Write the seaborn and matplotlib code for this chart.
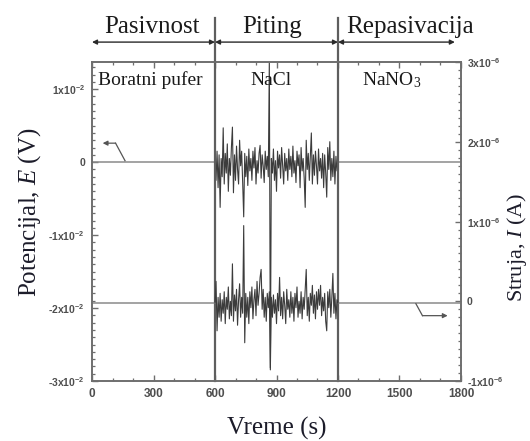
import numpy as np
import pandas as pd
import matplotlib
matplotlib.use("Agg")
import matplotlib.pyplot as plt
import seaborn as sns
from matplotlib.ticker import FixedLocator, FixedFormatter, MultipleLocator

# ---------------- data ----------------
phase_names = ["Pasivnost", "Piting", "Repasivacija"]
phase_bounds = [0, 600, 1200, 1800]
solution_names = ["Boratni pufer", "NaCl", "NaNO$_3$"]

x_ticks = [0, 300, 600, 900, 1200, 1500, 1800]
left_ticks = [-0.03, -0.02, -0.01, 0.0, 0.01]
left_labels = ["-3x10$^{-2}$", "-2x10$^{-2}$", "-1x10$^{-2}$", "0", "1x10$^{-2}$"]
right_ticks = [-1e-6, 0.0, 1e-6, 2e-6, 3e-6]
right_labels = ["-1x10$^{-6}$", "0", "1x10$^{-6}$", "2x10$^{-6}$", "3x10$^{-6}$"]

# baseline segments (passive and repassivation periods)
base_time_pass = [0, 600]
base_time_rep = [1200, 1800]
pot_base = [0.0, 0.0]          # x1e-2 V
cur_base = [-0.02, -0.02]      # x1e-6 A

# pitting period, sampled every 5 s from 600 to 1200 s
pit_time = np.arange(600, 1201, 5)
pot_pit = [  # x1e-2 V
    0.00, -0.25, 0.15, -0.35, 0.10, -0.62, 0.05, -0.20, 0.47, -0.30,
    0.12, -0.15, 0.25, -0.40, 0.05, -0.18, 0.20, 0.48, -0.42, 0.10,
    -0.25, 0.22, -0.10, -0.30, 0.30, -0.05, 0.15, -0.28, -0.75, 0.12,
    -0.20, 0.08, -0.32, 0.18, -0.12, 0.05, -0.25, 0.15, -0.08, 0.20,
    -0.30, 0.02, -0.15, 0.12, 0.23, -0.22, 0.10, -0.05, -0.28, 0.15,
    -0.10, 0.08, -0.20, 1.40, -2.82, 0.05, -0.15, 0.18, -0.25, 0.02,
    -0.40, 0.15, -0.08, 0.10, -0.22, 0.20, -0.05, -0.30, 0.12, -0.12,
    0.05, -0.25, 0.18, -0.10, 0.08, -0.20, 0.22, -0.15, 0.02, -0.28,
    0.15, -0.05, 0.10, -0.35, 0.20, -0.12, 0.05, -0.22, -0.62, 0.30,
    -0.10, 0.12, -0.25, 0.08, 0.40, -0.30, 0.10, -0.18, 0.15, -0.05,
    -0.30, 0.18, -0.12, 0.05, -0.22, 0.12, -0.35, 0.10, -0.15, -0.48,
    0.20, -0.10, 0.28, -0.25, 0.05, -0.20, 0.15, -0.30, 0.08, -0.12,
    0.00,
]
cur_pit = [  # x1e-6 A
    -0.02, 0.25, -0.37, 0.05, -0.20, 0.10, -0.25, 0.02, -0.15, 0.12,
    -0.28, 0.05, -0.10, 0.18, -0.22, 0.00, -0.18, 0.47, -0.25, 0.08,
    -0.12, 0.15, -0.30, 0.02, 0.22, -0.20, 0.05, -0.15, 0.95, -0.52,
    0.10, -0.20, 0.05, -0.28, 0.12, -0.08, 0.18, -0.22, 0.02, 0.15,
    -0.18, 0.25, -0.05, 0.10, 0.30, 0.40, -0.10, 0.15, -0.20, 0.05,
    -0.25, 0.10, -0.08, 0.12, -0.86, 0.05, -0.20, 0.08, -0.15, 0.02,
    -0.28, 0.10, -0.12, 0.30, -0.18, 0.05, -0.22, 0.12, -0.05, -0.28,
    0.15, -0.10, 0.02, -0.20, 0.12, -0.15, 0.05, -0.25, 0.10, -0.08,
    0.18, -0.20, 0.00, -0.15, 0.12, -0.22, 0.05, -0.10, 0.15, 0.40,
    -0.18, 0.05, -0.25, 0.10, -0.05, 0.20, -0.15, 0.08, -0.22, 0.12,
    -0.10, 0.15, -0.05, 0.20, -0.18, 0.05, -0.12, 0.10, -0.25, -0.37,
    0.12, -0.08, 0.15, -0.20, 0.05, 0.35, -0.15, 0.10, -0.22, 0.02,
    -0.02,
]
assert len(pot_pit) == len(pit_time) and len(cur_pit) == len(pit_time)

# ---------------- style ----------------
plt.rcParams["font.family"] = ["Liberation Sans", "DejaVu Sans"]
plt.rcParams["mathtext.fontset"] = "custom"
plt.rcParams["mathtext.rm"] = "Liberation Serif"
plt.rcParams["mathtext.it"] = "Liberation Serif:italic"
plt.rcParams["mathtext.default"] = "regular"

spine_c = "#6e6e6e"
tick_lbl_c = "#4e4e4e"
label_c = "#1c1c2a"
serif = "Liberation Serif"

fig = plt.figure(figsize=(5.30, 4.41), dpi=100)
ax = fig.add_axes([0.1736, 0.136, 0.6962, 0.723])
ax2 = ax.twinx()

df_pot_pit = pd.DataFrame({"t": pit_time, "E": np.array(pot_pit) * 1e-2})
df_cur_pit = pd.DataFrame({"t": pit_time, "I": np.array(cur_pit) * 1e-6})
base_c = "#8a8a8a"
for bt in (base_time_pass, base_time_rep):
    sns.lineplot(data=pd.DataFrame({"t": bt, "E": np.array(pot_base) * 1e-2}),
                 x="t", y="E", ax=ax, color=base_c, lw=1.1)
    sns.lineplot(data=pd.DataFrame({"t": bt, "I": np.array(cur_base) * 1e-6}),
                 x="t", y="I", ax=ax2, color=base_c, lw=1.1)
sns.lineplot(data=df_pot_pit, x="t", y="E", ax=ax, color="#3c3c3c", lw=0.8)
sns.lineplot(data=df_cur_pit, x="t", y="I", ax=ax2, color="#3c3c3c", lw=0.8)

ax.set_xlim(0, 1800)
ax.set_ylim(-0.03, 0.0137)
ax2.set_ylim(-1e-6, 3e-6)

# ticks
ax.xaxis.set_major_locator(FixedLocator(x_ticks))
ax.xaxis.set_minor_locator(MultipleLocator(100))
ax.yaxis.set_major_locator(FixedLocator(left_ticks))
ax.yaxis.set_major_formatter(FixedFormatter(left_labels))
ax.yaxis.set_minor_locator(MultipleLocator(0.001))
ax2.yaxis.set_major_locator(FixedLocator(right_ticks))
ax2.yaxis.set_major_formatter(FixedFormatter(right_labels))
ax2.yaxis.set_minor_locator(MultipleLocator(1e-7))

ax.tick_params(axis="x", which="both", direction="in", top=True, bottom=True,
               color=spine_c, labelcolor=tick_lbl_c, labelsize=8.5, pad=5)
ax.tick_params(axis="y", which="both", direction="in", left=True, right=False,
               color=spine_c, labelcolor=tick_lbl_c, labelsize=7.5, pad=5)
ax2.tick_params(axis="y", which="both", direction="in", right=True, left=False,
                color=spine_c, labelcolor=tick_lbl_c, labelsize=7.5, pad=4)
for a in (ax, ax2):
    a.tick_params(which="major", length=4.5, width=1.0)
    a.tick_params(which="minor", length=2.5, width=0.9)
    for lbl in a.get_xticklabels() + a.get_yticklabels():
        lbl.set_fontweight("bold")
    for s in a.spines.values():
        s.set_color(spine_c)
        s.set_linewidth(1.2)

ax.set_xlabel("Vreme (s)", fontfamily=serif, fontsize=18, color=label_c, labelpad=12)
ax.set_ylabel("Potencijal, $\\mathit{E}$ (V)", fontfamily=serif, fontsize=18,
              color=label_c)
ax.yaxis.set_label_coords(-0.133, 0.53)
ax2.set_ylabel("Struja, $\\mathit{I}$ (A)", fontfamily=serif, fontsize=16,
               color=label_c)
ax2.yaxis.set_label_coords(1.118, 0.42)

# phase boundaries, extending above the plot
for b in phase_bounds[1:3]:
    ax.axvline(b, ymin=0, ymax=1.138, color="#5e5e5e", lw=1.6, clip_on=False, zorder=5)

# phase arrows and titles
arrow_y = 1.063
for i, name in enumerate(phase_names):
    x0 = phase_bounds[i]
    x1 = phase_bounds[i + 1] if i < 2 else 1770
    ax.annotate("", xy=(x1, arrow_y), xytext=(x0, arrow_y),
                xycoords=("data", "axes fraction"), textcoords=("data", "axes fraction"),
                arrowprops=dict(arrowstyle="<|-|>", color="#2a2a2a", lw=1.0,
                                mutation_scale=7, shrinkA=0, shrinkB=0),
                annotation_clip=False)
title_x = [293, 878, 1551]
for name, tx in zip(phase_names, title_x):
    ax.text(tx, 1.093, name, transform=ax.get_xaxis_transform(), ha="center",
            va="baseline", fontfamily=serif, fontsize=18, color="#1a1a1a", clip_on=False)

# solution labels
sol_x = [29, 873, 1317]
sol_ha = ["left", "center", "left"]
for name, sx, ha in zip(solution_names, sol_x, sol_ha):
    ax.text(sx, 0.928, name, transform=ax.get_xaxis_transform(), ha=ha,
            va="baseline", fontfamily=serif, fontsize=14, color="#1a1a1a")

# series indicator arrows
ax.plot([161, 115], [0.0002, 0.0026], color="#555555", lw=0.9)
ax.annotate("", xy=(52, 0.0026), xytext=(115, 0.0026),
            arrowprops=dict(arrowstyle="-|>", color="#555555", lw=0.9,
                            mutation_scale=7, shrinkA=0, shrinkB=0))
ax2.plot([1580, 1612], [-0.03e-6, -0.18e-6], color="#555555", lw=0.9)
ax2.annotate("", xy=(1735, -0.18e-6), xytext=(1612, -0.18e-6),
             arrowprops=dict(arrowstyle="-|>", color="#555555", lw=0.9,
                             mutation_scale=7, shrinkA=0, shrinkB=0))

fig.savefig("out.png", dpi=100)
